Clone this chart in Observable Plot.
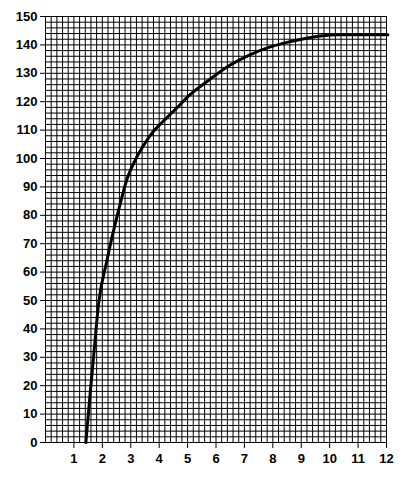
<!DOCTYPE html>
<html>
<head>
<meta charset="utf-8">
<script src="https://cdn.jsdelivr.net/npm/d3@7"></script>
<script src="https://cdn.jsdelivr.net/npm/@observablehq/plot@0.6"></script>
<style>
  html, body { margin: 0; padding: 0; background: #fff; }
  svg { display: block; }
</style>
</head>
<body>
<div id="chart"></div>
<script>
const curveX = [1.42, 1.57, 1.69, 1.87, 2.16, 2.57, 2.87, 3.16, 3.45, 3.80, 4.15, 4.57, 5.07, 5.80, 6.50, 7.21, 7.91, 8.50, 8.97, 9.67, 10.3, 12.05];
const curveY = [0, 17, 30, 49, 64, 81.7, 92.8, 99.5, 104.6, 109.6, 113.2, 117.3, 122.3, 128.0, 132.9, 136.6, 139.3, 140.9, 141.9, 143.1, 143.6, 143.6];
const xTicks = [1, 2, 3, 4, 5, 6, 7, 8, 9, 10, 11, 12];
const yTicks = [0, 10, 20, 30, 40, 50, 60, 70, 80, 90, 100, 110, 120, 130, 140, 150];

const curve = curveX.map((x, i) => ({x, y: curveY[i]}));
const gridXs = d3.range(0, 61).map(i => i / 5);
const gridYs = d3.range(0, 76).map(i => i * 2);

const chart = Plot.plot({
  width: 404,
  height: 485,
  marginLeft: 45,
  marginRight: 18,
  marginTop: 16,
  marginBottom: 43,
  style: {fontFamily: "'Liberation Sans Narrow', 'Liberation Sans', sans-serif", fontSize: "13px", fontWeight: "bold", color: "black", background: "white"},
  x: {domain: [0, 12]},
  y: {domain: [0, 150]},
  marks: [
    Plot.gridX(gridXs, {stroke: "black", strokeOpacity: 1, strokeWidth: 1}),
    Plot.gridY(gridYs, {stroke: "black", strokeOpacity: 1, strokeWidth: 1}),
    Plot.frame({stroke: "black"}),
    Plot.axisX(xTicks, {tickSize: 6, tickPadding: 5, label: null, stroke: "black"}),
    Plot.axisY(yTicks, {tickSize: 5, tickPadding: 3, label: null, stroke: "black"}),
    Plot.line(curve, {x: "x", y: "y", stroke: "black", strokeWidth: 3, curve: "monotone-x", clip: false})
  ]
});
document.getElementById("chart").appendChild(chart);
</script>
</body>
</html>
